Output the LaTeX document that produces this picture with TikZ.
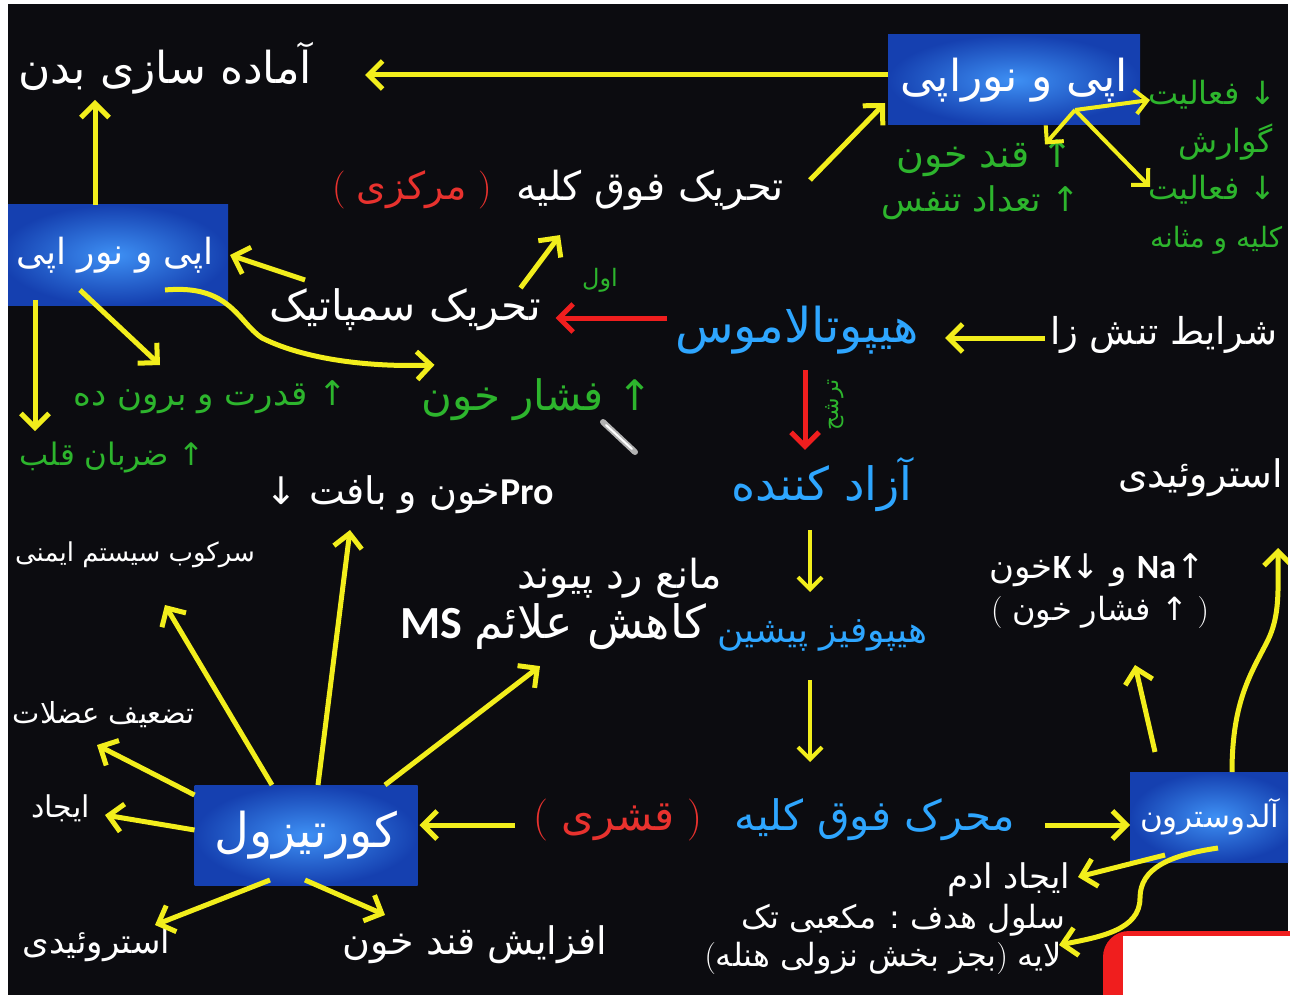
\documentclass[tikz,border=0pt]{standalone}
\usepackage{fontspec}
\usetikzlibrary{arrows.meta}
\newfontfamily\arabicfont[Script=Arabic]{DejaVu Sans}
\newfontfamily\latb{Carlito}
\TeXXeTstate=1
\newcommand{\fa}[1]{{\arabicfont\beginR #1\endR}}
\newcommand{\fsz}[1]{\fontsize{#1pt}{#1pt}\selectfont}
\definecolor{bg}{HTML}{0C0C10}
\definecolor{yel}{HTML}{F2EE1C}
\definecolor{grn}{HTML}{2DB52D}
\definecolor{cyn}{HTML}{2EA6FF}
\definecolor{redt}{HTML}{E8322E}
\definecolor{reda}{HTML}{F01E1E}
\definecolor{boxin}{HTML}{3E90F4}
\definecolor{boxout}{HTML}{1540B0}
\tikzset{
  lbl/.style={inner sep=0pt, outer sep=0pt},
  wt/.style={lbl, text=white},
  gt/.style={lbl, text=grn},
  bt/.style={lbl, text=cyn},
  rt/.style={lbl, text=redt},
  hbox/.style={inner sep=0pt, outer sep=0pt, inner color=boxin, outer color=boxout, text=white},
  ya/.style={draw=yel, line width=5pt, -{Straight Barb[length=14pt,width=28pt]}},
  yt/.style={draw=yel, line width=4pt, -{Straight Barb[length=12pt,width=24pt]}},
  ra/.style={draw=reda, line width=5pt, -{Straight Barb[length=14pt,width=28pt]}},
}
\begin{document}
\begin{tikzpicture}[x=1pt,y=-1pt]
\useasboundingbox (0,0) rectangle (1290,995);
\fill[white] (0,0) rectangle (1290,995);
\fill[bg] (8,4) rectangle (1288,995);
\begin{scope}
\clip (8,4) rectangle (1288,995);
% boxes
\node[hbox, minimum width=252pt, minimum height=90pt, font=\fsz{44}] (epi1) at (1014,80) {\fa{اپی و نوراپی}};
\node[hbox, minimum width=228pt, minimum height=100pt, font=\fsz{36}] (epi2) at (114,255) {\makebox[200pt][r]{\fa{اپی و نور اپی}}};
\node[hbox, minimum width=223pt, minimum height=100pt, font=\fsz{48}] (cort) at (306,835) {\fa{کورتیزول}};
\node[hbox, minimum width=170pt, minimum height=90pt, font=\fsz{31}] (aldo) at (1215,817) {\makebox[150pt][l]{\fa{آلدوسترون}}};
% texts
\node[wt, anchor=east, minimum height=64pt, font=\fsz{44}] (prep) at (312,68) {\fa{آماده سازی بدن}};
\node[wt, minimum width=270pt, minimum height=40pt, font=\fsz{40}] (cent) at (650,190) {\fa{تحریک فوق کلیه}};
\node[rt, minimum width=187pt, minimum height=40pt, font=\fsz{38}] (centr) at (412,190) {(\ \fa{مرکزی}\ )};
\node[wt, minimum width=275pt, minimum height=44pt, font=\fsz{42}] (symp) at (405,310) {\fa{تحریک سمپاتیک}};
\node[gt, font=\fsz{24}] (first) at (600,280) {\fa{اول}};
\node[bt, minimum width=260pt, minimum height=50pt, font=\fsz{48}] (hypo) at (797,330) {\fa{هیپوتالاموس}};
\node[wt, anchor=west, minimum height=50pt, font=\fsz{37}] (stress) at (1050,335) {\fa{شرایط تنش زا}};
\node[gt, minimum width=235pt, minimum height=36pt, font=\fsz{42}] (bp1) at (537,400) {\fa{↑ فشار خون}};
\node[gt, minimum width=280pt, minimum height=36pt, font=\fsz{34}] (power) at (210,397) {\fa{↑ قدرت و برون ده}};
\node[gt, anchor=east, minimum height=54pt, font=\fsz{31}] (hr) at (205,458) {\fa{↑ ضربان قلب}};
\node[gt, rotate=90, font=\fsz{22}] (secr) at (835,405) {\fa{ترشح}};
\node[bt, minimum width=185pt, minimum height=50pt, font=\fsz{46}] (rel) at (822,485) {\fa{آزاد کننده}};
\node[bt, minimum width=210pt, minimum height=40pt, font=\fsz{36}] (ant) at (822,635) {\fa{هیپوفیز پیشین}};
\node[bt, minimum width=280pt, minimum height=50pt, font=\fsz{42}] (acth) at (875,820) {\fa{محرک فوق کلیه}};
\node[rt, minimum width=200pt, minimum height=50pt, font=\fsz{42}] (actr) at (618,820) {(\ \fa{قشری}\ )};
\node[gt, minimum width=214pt, minimum height=36pt, font=\fsz{38}] (sug1) at (985,158) {\fa{↑ قند خون}};
\node[gt, minimum width=222pt, minimum height=36pt, font=\fsz{34}] (resp) at (981,203) {\fa{↑ تعداد تنفس}};
\node[gt, anchor=west, minimum height=40pt, font=\fsz{32}] (g1) at (1148,95) {\fa{↓ فعالیت}};
\node[gt, anchor=west, font=\fsz{32}] (g2) at (1178,142) {\fa{گوارش}};
\node[gt, anchor=west, minimum height=40pt, font=\fsz{32}] (g3) at (1148,190) {\fa{↓ فعالیت}};
\node[gt, anchor=west, font=\fsz{28}] (g4) at (1150,240) {\fa{کلیه و مثانه}};
\node[wt, minimum width=305pt, minimum height=40pt, font=\fsz{38}] (pro) at (410,495) {{\arabicfont↓}\ \fa{خون و بافت}{\latb\bfseries Pro}};
\node[wt, anchor=east, minimum height=40pt, font=\fsz{26}] (imm) at (255,555) {\fa{سرکوب سیستم ایمنی}};
\node[wt, anchor=east, font=\fsz{40}] (trans1) at (722,578) {\fa{مانع رد پیوند}};
\node[wt, anchor=east, minimum height=44pt, font=\fsz{46}] (trans2) at (706,627) {{\latb\bfseries MS}\hspace{12pt}\fa{کاهش علائم}};
\node[wt, anchor=east, minimum height=40pt, font=\fsz{29}] (musc) at (195,715) {\fa{تضعیف عضلات}};
\node[wt, anchor=east, font=\fsz{30}] (crt) at (90,808) {\fa{ایجاد}};
\node[wt, anchor=east, font=\fsz{34}] (ster) at (170,945) {\fa{استروئیدی}};
\node[wt, minimum width=280pt, minimum height=40pt, font=\fsz{38}] (sug2) at (475,945) {\fa{افزایش قند خون}};
\node[wt, font=\fsz{34}] (nak) at (1097,570) {\fa{خون}{\latb\bfseries K}{\arabicfont↓}\ \fa{و}\ {\latb\bfseries Na}{\arabicfont↑}};
\node[wt, minimum height=40pt, font=\fsz{32}] (bp2) at (1100,612) {(\ \fa{↑ فشار خون}\ )};
\node[wt, anchor=east, font=\fsz{34}] (edema) at (1070,880) {\fa{ایجاد ادم}};
\node[wt, anchor=east, font=\fsz{32}] (tgt1) at (1065,920) {\fa{سلول هدف : مکعبی تک}};
\node[wt, anchor=east, font=\fsz{32}] (tgt2) at (1062,958) {(\fa{بجز بخش نزولی هنله})\ \fa{لایه}};
\node[wt, anchor=west, minimum height=50pt, font=\fsz{38}] (steroidR) at (1118,478) {\fa{استروئیدی}};
% pointer icon
\draw[line width=6pt, gray!60, line cap=round] (603,422) -- (635,452);
\draw[line width=2pt, white, line cap=round] (606,425) -- (632,449);
% connectors
\draw[ya] ([yshift=5pt]epi1.west) -- ([shift={(53,7)}]prep.east);
\draw[ya] ([xshift=-19pt]epi2.north) -- ([xshift=-19pt]epi2.north |- prep.south);
\draw[ya] ([shift={(25,-10)}]cent.east) -- ([shift={(-3,23)}]epi1.west);
\draw[yt] ([shift={(61,30)}]epi1.center) -- ([shift={(2,5)}]g1.west);
\draw[yt] ([shift={(61,30)}]epi1.center) -- ([shift={(2,-3)}]g3.west);
\draw[yt] ([shift={(61,30)}]epi1.center) -- ([shift={(-47,5)}]sug1.north east);
\draw[ra] ([yshift=12pt]hypo.west) -- ([shift={(13,8)}]symp.east);
\draw[ya] ([xshift=-22pt]symp.north east) -- ([shift={(45,25)}]cent.south west);
\draw[ya] ([shift={(-100,-8)}]symp.north) -- ([xshift=2pt]epi2.east);
\draw[ya] ([shift={(51,35)}]epi2.center) .. controls (230,284) and (238,322) .. (262,338) .. controls (310,362) and (380,367) .. ([shift={(15,-14)}]bp1.north west);
\draw[ya] ([shift={(-34,35)}]epi2.center) -- ([shift={(90,-14)}]power.north west);
\draw[ya] ([shift={(-79,45)}]epi2.center) -- ([xshift=-79pt]epi2.center |- hr.north);
\draw[ya] ([shift={(-5,3)}]stress.west) -- ([shift={(18,8)}]hypo.east);
\draw[ra] ([shift={(8,15)}]hypo.south) -- ([shift={(-17,-8)}]rel.north);
\draw[yt] ([shift={(-12,18)}]rel.south) -- ([shift={(-12,-23)}]ant.north);
\draw[yt] ([shift={(-12,25)}]ant.south) -- ([shift={(-65,-33)}]acth.north);
\draw[ya] ([shift={(-3,5)}]actr.west) -- ([shift={(2,-10)}]cort.east);
\draw[ya] ([shift={(30,5)}]acth.east) -- ([yshift=-8pt]aldo.west);
\draw[ya] ([shift={(-60,-20)}]aldo.north) -- ([shift={(35,33)}]bp2.south);
\draw[ya] ([xshift=17pt]aldo.north) .. controls (1232,700) and (1252,672) .. (1268,640) .. controls (1280,615) and (1278,590) .. ([shift={(160,45)}]steroidR.south west);
\draw[ya] ([shift={(-50,-7)}]aldo.south) -- ([shift={(8,-3)}]edema.east);
\draw[ya] ([shift={(3,31)}]aldo.center) .. controls (1170,855) and (1140,868) .. (1140,898) .. controls (1140,930) and (1100,937) .. ([shift={(-3,-13)}]tgt2.east);
\draw[ya] ([xshift=-34pt]cort.north) -- ([shift={(-90,30)}]imm.south east);
\draw[ya] ([xshift=12pt]cort.north) -- ([shift={(-60,15)}]pro.south);
\draw[ya] ([xshift=79pt]cort.north) -- ([shift={(-166,16)}]trans2.south east);
\draw[ya] ([yshift=40pt]cort.west) -- ([shift={(-98,10)}]musc.south east);
\draw[ya] ([yshift=5pt]cort.west) -- ([shift={(15,7)}]crt.east);
\draw[ya] ([shift={(-36,-5)}]cort.south) -- ([shift={(-15,-20)}]ster.east);
\draw[ya] ([shift={(-1,-5)}]cort.south) -- ([shift={(50,-30)}]sug2.west);
\end{scope}
% corner overlay
\fill[reda, rounded corners=26pt] (1103,931) rectangle (1320,1030);
\fill[white] (1123,936) rectangle (1290,995);
\end{tikzpicture}
\end{document}
